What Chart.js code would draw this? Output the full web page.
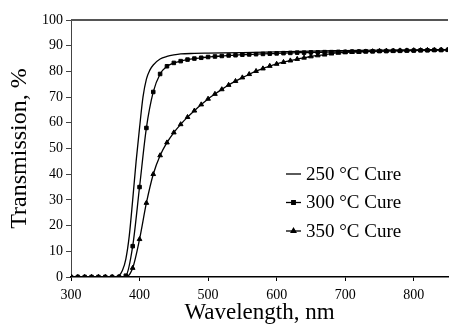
<!DOCTYPE html>
<html>
<head>
<meta charset="utf-8">
<script src="https://cdn.jsdelivr.net/npm/chart.js@4/dist/chart.umd.min.js"></script>
<style>
  html, body { margin: 0; padding: 0; background: #fff; }
  #wrap { width: 453px; height: 325px; position: relative; }
</style>
</head>
<body>
<div id="wrap"><canvas id="myChart" width="453" height="325"></canvas></div>
<script>
// series labels
const seriesLabels = ['250 \u00B0C Cure', '300 \u00B0C Cure', '350 \u00B0C Cure'];

// 250 C cure: plain line, sampled finer around the edge
const nm250 = [300, 350, 365, 370, 375, 380, 385, 390, 395, 400, 405, 410, 415, 420, 430, 440, 450, 460, 480, 500, 550, 600, 650, 700, 750, 800, 850];
const t250  = [0, 0, 0, 0.5, 2.5, 7, 16, 30, 45, 58, 70, 77, 80.5, 82.5, 84.8, 85.8, 86.4, 86.8, 87, 87.1, 87.3, 87.6, 87.9, 88.1, 88.3, 88.4, 88.5];

// 300 and 350 C cure: one marker every 10 nm
const nmStep = [300, 310, 320, 330, 340, 350, 360, 370, 380, 390,
                400, 410, 420, 430, 440, 450, 460, 470, 480, 490,
                500, 510, 520, 530, 540, 550, 560, 570, 580, 590,
                600, 610, 620, 630, 640, 650, 660, 670, 680, 690,
                700, 710, 720, 730, 740, 750, 760, 770, 780, 790,
                800, 810, 820, 830, 840, 850];
const t300 = [0, 0, 0, 0, 0, 0, 0, 0, 0.5, 12,
              35, 58, 72, 79, 82, 83.3, 84, 84.6, 85, 85.3,
              85.6, 85.8, 86, 86.2, 86.3, 86.5, 86.6, 86.7, 86.8, 86.9,
              87, 87.1, 87.2, 87.3, 87.3, 87.4, 87.4, 87.5, 87.5, 87.6,
              87.6, 87.7, 87.7, 87.8, 87.8, 87.9, 87.9, 88, 88, 88.1,
              88.1, 88.2, 88.2, 88.3, 88.3, 88.4];
const t350 = [0, 0, 0, 0, 0, 0, 0, 0, 0, 3.5,
              14.7, 28.8, 40, 47.3, 52.3, 56.2, 59.4, 62.2, 64.7, 67.1,
              69.3, 71.2, 73, 74.7, 76.2, 77.6, 78.9, 80.1, 81.1, 82.1,
              82.9, 83.6, 84.2, 84.8, 85.3, 85.8, 86.2, 86.5, 86.9, 87.2,
              87.4, 87.5, 87.6, 87.7, 87.8, 87.9, 88, 88, 88.1, 88.1,
              88.2, 88.2, 88.3, 88.3, 88.4, 88.4];

// axis ranges and ticks
const xMin = 300, xMax = 850, xStep = 100;
const yMin = 0, yMax = 100, yStep = 10;

const serif = "'Liberation Serif', 'Times New Roman', serif";

function toPoints(xs, ys) {
    return xs.map((x, i) => ({ x: x, y: ys[i] }));
}

// legend drawn inside the plot area, like the original figure
const insideLegend = {
    id: 'insideLegend',
    afterDatasetsDraw(chart) {
        const { ctx, chartArea } = chart;
        const x0 = chartArea.left + 215;
        const y0 = chartArea.top + 154;
        const rowH = 28.5;
        ctx.save();
        ctx.font = '19px ' + serif;
        ctx.textBaseline = 'middle';
        chart.data.datasets.forEach((ds, i) => {
            const y = y0 + i * rowH;
            ctx.strokeStyle = '#000';
            ctx.fillStyle = '#000';
            ctx.lineWidth = 1.3;
            ctx.beginPath();
            ctx.moveTo(x0, y);
            ctx.lineTo(x0 + 15, y);
            ctx.stroke();
            if (ds.pointRadius > 0) {
                Chart.helpers.drawPoint(ctx, {
                    pointStyle: ds.pointStyle, rotation: 0,
                    radius: ds.pointRadius, borderWidth: 1
                }, x0 + 7.5, y);
            }
            ctx.fillStyle = '#000';
            ctx.fillText(ds.label, x0 + 20, y + 1);
        });
        ctx.restore();
    }
};

// frame line along the top of the plot
const topFrame = {
    id: 'topFrame',
    afterDraw(chart) {
        const { ctx, chartArea } = chart;
        ctx.save();
        ctx.strokeStyle = '#555';
        ctx.lineWidth = 2;
        ctx.beginPath();
        ctx.moveTo(chartArea.left, chartArea.top);
        ctx.lineTo(chartArea.right, chartArea.top);
        ctx.stroke();
        ctx.restore();
    }
};

const common = {
    borderColor: '#000',
    backgroundColor: '#000',
    borderWidth: 1.3,
    cubicInterpolationMode: 'monotone',
    pointBorderWidth: 1,
    pointBorderColor: '#000',
    pointBackgroundColor: '#000'
};

const ctx = document.getElementById('myChart').getContext('2d');
const myChart = new Chart(ctx, {
    type: 'line',
    data: {
        datasets: [
            Object.assign({}, common, { label: seriesLabels[0], data: toPoints(nm250, t250), pointRadius: 0 }),
            Object.assign({}, common, { label: seriesLabels[1], data: toPoints(nmStep, t300), pointStyle: 'rect', pointRadius: 2.5 }),
            Object.assign({}, common, { label: seriesLabels[2], data: toPoints(nmStep, t350), pointStyle: 'triangle', pointRadius: 2.7 })
        ]
    },
    options: {
        responsive: false,
        animation: false,
        events: [],
        layout: { padding: { top: 20, right: 0, left: 0, bottom: 0 } },
        plugins: {
            legend: { display: false },
            tooltip: { enabled: false }
        },
        scales: {
            x: {
                type: 'linear',
                min: xMin, max: xMax,
                afterFit: s => { s.height = 48; },
                afterBuildTicks: s => {
                    const t = [];
                    for (let v = xMin; v <= xMax; v += xStep) t.push({ value: v });
                    s.ticks = t;
                },
                ticks: { color: '#000', font: { family: serif, size: 14 }, padding: 6, maxRotation: 0 },
                grid: { drawOnChartArea: false, tickLength: 4, color: '#000' },
                border: { color: '#000', width: 1.5 },
                title: {
                    display: true, text: 'Wavelength, nm', color: '#000',
                    font: { family: serif, size: 23 }, padding: { top: 0, bottom: -2 }
                }
            },
            y: {
                min: yMin, max: yMax,
                afterFit: s => { s.width = 71; },
                ticks: { stepSize: yStep, color: '#000', font: { family: serif, size: 14 }, padding: 3 },
                grid: { drawOnChartArea: false, tickLength: 5, color: '#444' },
                border: { color: '#444', width: 1 },
                title: {
                    display: true, text: 'Transmission, %', color: '#000',
                    font: { family: serif, size: 24 }, padding: { top: 5, bottom: 0 }
                }
            }
        }
    },
    plugins: [insideLegend, topFrame]
});
</script>
</body>
</html>
